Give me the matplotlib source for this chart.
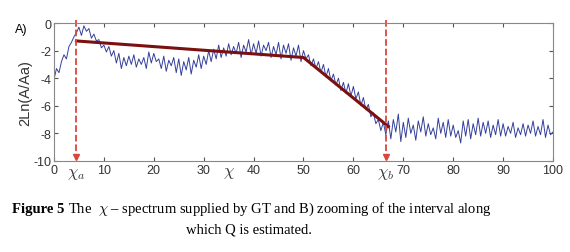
import numpy as np
import matplotlib
matplotlib.use('Agg')
import matplotlib.pyplot as plt

plt.rcParams['font.family'] = ['Liberation Sans', 'DejaVu Sans']
plt.rcParams['mathtext.fontset'] = 'cm'
plt.rcParams['axes.unicode_minus'] = False

chi_step = 0.5
spectrum = [
    -4.1, -3.3, -3.6, -2.8, -2.3, -2.6, -1.7, -1.4, -1.0, -0.7,
    -0.3, -0.9, -0.2, -0.6, -0.4, -1.1, -0.8, -1.3, -1.2, -1.8,
    -1.6, -2.1, -1.7, -2.4, -2.0, -2.9, -2.2, -3.3, -2.5, -3.1,
    -2.4, -3.0, -2.3, -3.2, -2.6, -3.0, -2.5, -3.3, -2.1, -2.9,
    -2.2, -2.8, -2.6, -3.3, -2.4, -3.5, -2.7, -3.1, -2.5, -3.6,
    -2.6, -3.8, -2.8, -3.4, -2.5, -3.7, -2.7, -3.2, -2.3, -3.3,
    -2.4, -3.0, -2.0, -2.8, -1.9, -2.6, -1.6, -2.5, -1.8, -2.4,
    -1.5, -2.3, -1.7, -2.2, -1.4, -2.5, -1.6, -2.1, -1.2, -2.3,
    -1.5, -2.2, -1.3, -2.4, -1.6, -2.0, -1.4, -2.5, -1.7, -2.3,
    -1.4, -2.6, -1.6, -2.2, -1.5, -2.7, -1.8, -2.4, -1.6, -2.8,
    -2.0, -2.6, -2.3, -3.1, -2.6, -3.3, -2.8, -3.6, -3.0, -3.9,
    -3.3, -4.2, -3.7, -4.5, -4.0, -4.9, -4.3, -5.1, -4.4, -5.3,
    -4.6, -5.5, -5.0, -6.0, -5.4, -6.3, -5.9, -6.8, -6.5, -7.3,
    -7.0, -7.8, -7.2, -8.1, -7.1, -8.4, -7.0, -7.9, -6.6, -8.6,
    -7.2, -8.3, -6.9, -8.0, -7.4, -8.5, -7.1, -7.9, -6.8, -8.2,
    -7.3, -8.1, -7.6, -8.4, -6.9, -8.0, -7.2, -8.3, -7.0, -8.2,
    -7.4, -8.3, -7.8, -8.7, -7.1, -8.2, -7.0, -8.4, -7.3, -8.1,
    -6.9, -8.2, -7.2, -8.0, -7.1, -8.3, -7.4, -8.1, -7.0, -8.2,
    -7.3, -8.2, -7.5, -8.0, -7.2, -8.3, -7.6, -8.1, -7.3, -8.2,
    -7.4, -8.0, -7.1, -8.2, -7.5, -8.1, -7.0, -8.3, -7.4, -8.1,
    -7.9,
]
chi = np.arange(len(spectrum)) * chi_step

# piecewise linear fit
fit_x = [4.5, 50, 67]
fit_y = [-1.3, -2.5, -7.5]

# interval limits
chi_a = 4.5
chi_b = 66.5

xticks = [0, 10, 20, 30, 40, 50, 60, 70, 80, 90, 100]
yticks = [0, -2, -4, -6, -8, -10]

fig = plt.figure(figsize=(5.7, 2.53), dpi=100)
ax = fig.add_axes([0.0947, 0.36, 0.8755, 0.545])

ax.plot(chi, spectrum, color='#34409c', lw=0.7)
ax.plot(fit_x, fit_y, color='#7a1010', lw=2.2)

for xv in [chi_a, chi_b]:
    ax.plot([xv, xv], [0.2, -9.7], '--', color='#d9463e', lw=1.3, clip_on=False)
    ax.plot([xv], [-9.75], marker='v', color='#d9463e', ms=5, clip_on=False)

ax.set_xlim(0, 100)
ax.set_ylim(-10, 0)
ax.set_xticks(xticks)
ax.set_yticks(yticks)
ax.tick_params(direction='in', top=True, right=True, labelsize=9, length=3,
               color='#555555', labelcolor='#333333', pad=2)
for s in ax.spines.values():
    s.set_color('#888888')
    s.set_linewidth(0.8)

ax.set_ylabel('2Ln(A/Aa)', fontsize=10.5, labelpad=1, color='#333333')

ax.text(chi_a, -10.4, r'$\chi_a$', ha='center', va='top', fontsize=12, color='#333333')
ax.text(35, -10.3, r'$\chi$', ha='center', va='top', fontsize=12, color='#333333')
ax.text(chi_b, -10.4, r'$\chi_b$', ha='center', va='top', fontsize=12, color='#333333')

fig.text(0.026, 0.87, 'A)', fontsize=9)

# caption: bold "Figure 5" then the rest on the same line
renderer = fig.canvas.get_renderer()
t1 = fig.text(12 / 570, 0.172, 'Figure 5', fontsize=10.5, weight='bold',
              ha='left', va='center', family='Liberation Serif')
bb = t1.get_window_extent(renderer)
x_next = bb.x1 / fig.bbox.width + 0.006
fig.text(x_next, 0.172, r'The  $\chi$ – spectrum supplied by GT and B) zooming of the interval along',
         fontsize=10.5, ha='left', va='center', family='Liberation Serif')
fig.text(0.437, 0.09, 'which Q is estimated.', fontsize=10.5, ha='center', va='center',
         family='Liberation Serif')

fig.savefig('out.png', dpi=100)
